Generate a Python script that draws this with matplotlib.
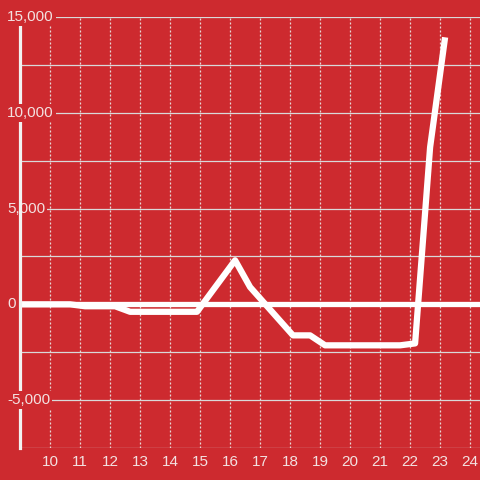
import matplotlib.pyplot as plt

# series
x_vals = [8.67, 9.17, 9.67, 10.17, 10.67, 11.17, 11.67, 12.17, 12.67, 13.17, 13.67,
          14.17, 14.9, 16.17, 16.67, 18.1, 18.67, 19.17, 19.67, 20.17, 20.67, 21.17,
          21.67, 22.17, 22.67, 23.17]
y_vals = [0, 0, 0, 0, 0, -100, -100, -100, -390, -390, -390,
          -390, -390, 2300, 900, -1620, -1620, -2140, -2140, -2140, -2140, -2140,
          -2140, -2040, 8200, 13940]

x_ticks = list(range(10, 25))
y_ticks = [-5000, 0, 5000, 10000, 15000]
y_labels = ['-5,000', '0', '5,000', '10,000', '15,000']
y_grid = [-7500, -5000, -2500, 0, 2500, 5000, 7500, 10000, 12500, 15000]

bg = '#cd2a2f'
txt = '#f3e1e1'

plt.rcParams['font.family'] = ['Liberation Sans', 'DejaVu Sans']

fig = plt.figure(figsize=(4.8, 4.8), dpi=100, facecolor=bg)
ax = fig.add_axes([20/480, 32/480, 460/480, 431/480], facecolor=bg)

for g in y_grid:
    ax.axhline(g, color='#d9d9d9', lw=0.9, zorder=0.5)
for t in x_ticks:
    ax.axvline(t, color='#e6d6d6', lw=0.9, ls=(0, (1.6, 1.6)), zorder=0.6)
ax.axhline(0, color='white', lw=3.8, zorder=1.5)

ax.plot(x_vals, y_vals, color='white', lw=4.5, solid_capstyle='butt', zorder=2)

ax.set_xlim(9.0, 9.0 + 460/30)
ax.set_ylim(-7500, 15000)

for s in ['top', 'right', 'bottom']:
    ax.spines[s].set_visible(False)
ax.spines['left'].set_color('#f2f2f2')
ax.spines['left'].set_linewidth(2.3)

ax.set_xticks(x_ticks)
ax.set_xticklabels([str(t) for t in x_ticks])
ax.tick_params(axis='x', length=0, pad=5, labelsize=11, labelcolor=txt)
ax.set_yticks([])

for v, lab in zip(y_ticks, y_labels):
    z = 3 if len(lab) >= 6 else 2.4
    ax.text(-13/460, v, lab, transform=ax.get_yaxis_transform(), ha='left', va='center',
            fontsize=11, color=txt, zorder=z,
            bbox=dict(facecolor=bg, edgecolor='none', pad=1.5))

fig.savefig('out.png', dpi=100, facecolor=bg)
